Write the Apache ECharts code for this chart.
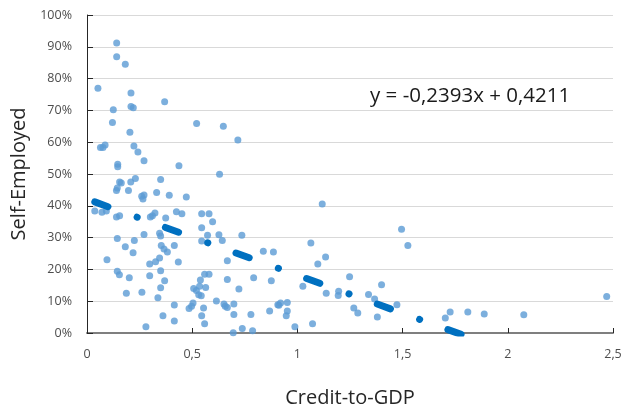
<!DOCTYPE html>
<html>
<head>
<meta charset="utf-8">
<script src="https://cdn.jsdelivr.net/npm/echarts@6/dist/echarts.min.js"></script>
<style>
  html, body { margin: 0; padding: 0; background: #fff; }
  #chart { width: 623px; height: 410px; }
</style>
</head>
<body>
<div id="chart"></div>
<script>
// Credit-to-GDP ratio per observation (x)
const creditToGdp = [
  0.141,0.141,0.182,0.052,0.209,0.369,0.125,0.209,0.220,0.121,0.521,0.648,0.204,0.717,0.064,0.076,0.086,0.223,0.242,0.271,0.146,0.146,0.437,0.630,
  0.155,0.163,0.140,0.144,0.197,0.208,0.230,0.350,
  0.260,0.271,0.266,0.331,0.391,0.472,
  0.037,0.071,0.092,0.140,0.155,
  0.301,0.311,0.323,0.374,0.425,0.451,
  0.545,0.580,0.597,0.545,0.627,0.643,0.736,0.573,0.545,
  0.271,0.144,0.225,0.345,0.350,0.353,0.366,0.382,0.415,
  0.182,0.219,0.095,0.298,0.326,0.345,0.434,0.667,0.838,0.886,
  0.144,0.154,0.201,0.298,0.350,0.369,0.559,0.580,0.539,0.667,0.792,0.876,
  0.187,0.261,0.350,0.337,0.507,0.520,0.535,0.564,0.531,0.543,
  0.415,0.504,0.497,0.485,0.615,0.651,0.657,0.667,0.698,0.722,0.554,0.545,0.559,0.698,0.779,0.868,0.907,0.361,0.415,0.280,0.695,0.738,0.787,
  1.118,1.064,1.134,1.097,1.026,1.137,1.196,1.194,1.248,
  0.912,0.920,0.952,0.947,0.952,0.988,1.072,
  1.268,1.287,1.338,1.367,1.400,1.380,1.473,1.495,1.525,
  1.703,1.726,1.810,1.888,2.076,2.470
];

// Self-employment share per observation (y)
const selfEmployed = [
  0.912,0.869,0.845,0.770,0.755,0.727,0.702,0.712,0.708,0.662,0.659,0.650,0.631,0.607,0.583,0.583,0.591,0.588,0.569,0.542,0.531,0.523,0.526,0.499,
  0.475,0.472,0.448,0.456,0.448,0.475,0.486,0.483,
  0.430,0.434,0.421,0.442,0.433,0.428,
  0.384,0.380,0.384,0.365,0.369,
  0.365,0.369,0.377,0.362,0.381,0.375,
  0.375,0.375,0.350,0.331,0.309,0.291,0.307,0.307,0.289,
  0.310,0.297,0.291,0.314,0.305,0.275,0.264,0.255,0.275,
  0.271,0.252,0.230,0.217,0.224,0.236,0.223,0.227,0.257,0.255,
  0.194,0.183,0.174,0.180,0.196,0.164,0.185,0.185,0.167,0.168,0.174,0.164,
  0.125,0.128,0.142,0.111,0.140,0.134,0.147,0.143,0.120,0.117,
  0.088,0.094,0.084,0.077,0.101,0.091,0.084,0.080,0.091,0.138,0.079,0.054,0.029,0.058,0.058,0.069,0.089,0.054,0.038,0.020,0.001,0.014,0.007,
  0.406,0.283,0.239,0.217,0.147,0.125,0.131,0.118,0.177,
  0.087,0.094,0.096,0.054,0.069,0.020,0.029,
  0.079,0.063,0.121,0.107,0.152,0.050,0.089,0.326,0.275,
  0.047,0.066,0.066,0.060,0.057,0.115
];

// Linear trend: y = slope * x + intercept
const trendSlope = -0.2393;
const trendIntercept = 0.4211;

// Axis ticks
const xTicks = [0, 0.5, 1, 1.5, 2, 2.5];
const yTicks = [0, 0.1, 0.2, 0.3, 0.4, 0.5, 0.6, 0.7, 0.8, 0.9, 1];

const points = creditToGdp.map((x, i) => [x, selfEmployed[i]]);

// Trend runs from the smallest x onward; the plot area clips it at y = 0
const trendStart = Math.min(...creditToGdp);
const trendEnd = 1.85;
const trendData = [trendStart, trendEnd].map(x => [x, trendSlope * x + trendIntercept]);

const fmtNum = v => String(v).replace('.', ',');
const eqText = 'y = ' + fmtNum(trendSlope) + 'x + ' + fmtNum(trendIntercept);

const labelFont = '"Open Sans", "Noto Sans", sans-serif';

const chart = echarts.init(document.getElementById('chart'), null, { renderer: 'canvas' });
chart.setOption({
  animation: false,
  backgroundColor: '#ffffff',
  grid: { left: 87, right: 10, top: 15, bottom: 77, outerBoundsMode: 'none', containLabel: false },
  xAxis: {
    type: 'value',
    min: xTicks[0],
    max: xTicks[xTicks.length - 1],
    interval: 0.5,
    name: 'Credit-to-GDP',
    nameLocation: 'middle',
    nameGap: 55,
    nameTextStyle: { fontFamily: labelFont, fontSize: 20, color: '#262626' },
    axisLine: { show: true, onZero: false, lineStyle: { color: '#7f7f7f', width: 2 } },
    axisTick: { show: true, inside: true, length: 5, lineStyle: { color: '#262626', width: 1 } },
    axisLabel: {
      margin: 15, fontFamily: labelFont, fontSize: 12.5, color: '#4d4d4d',
      formatter: v => fmtNum(v)
    },
    splitLine: { show: false }
  },
  yAxis: {
    type: 'value',
    min: yTicks[0],
    max: yTicks[yTicks.length - 1],
    interval: 0.1,
    name: 'Self-Employed',
    nameLocation: 'middle',
    nameGap: 56,
    nameTextStyle: { fontFamily: labelFont, fontSize: 20, color: '#262626' },
    axisLine: { show: true, onZero: false, lineStyle: { color: '#262626', width: 1 } },
    axisTick: { show: true, inside: true, length: 6, lineStyle: { color: '#262626', width: 1 } },
    axisLabel: {
      margin: 15, fontFamily: labelFont, fontSize: 12.5, color: '#4d4d4d',
      formatter: v => Math.round(v * 100) + '%'
    },
    splitLine: { show: true, lineStyle: { color: '#d9d9d9', width: 1 } }
  },
  graphic: [{
    type: 'text',
    left: 370,
    top: 86,
    style: {
      text: eqText,
      fontFamily: labelFont,
      fontSize: 20.5,
      fill: '#1a1a1a'
    }
  }],
  series: [
    {
      type: 'scatter',
      data: points,
      symbol: 'circle',
      symbolSize: 7,
      clip: false,
      itemStyle: { color: '#5b9bd5' }
    },
    {
      type: 'line',
      data: trendData,
      symbol: 'none',
      clip: true,
      silent: true,
      lineStyle: {
        color: '#0070c0',
        width: 7,
        cap: 'round',
        type: [14, 31, 0.1, 30]
      }
    }
  ]
});
</script>
</body>
</html>
